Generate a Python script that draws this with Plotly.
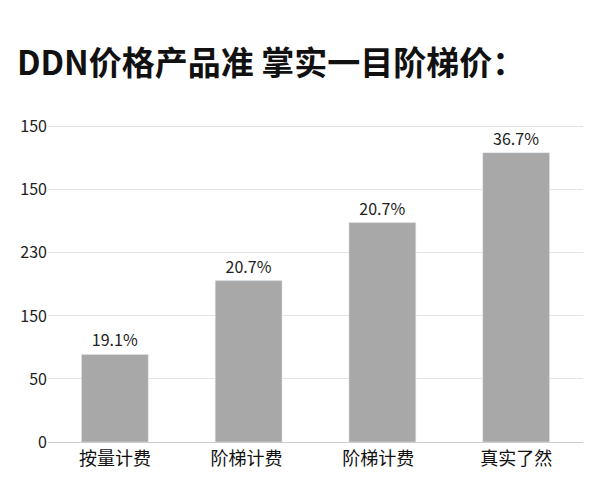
import plotly.graph_objects as go

categories = ["按量计费", "阶梯计费 ", "阶梯计费  ", "真实了然"]
bar_values = [1.39, 2.56, 3.48, 4.59]
bar_labels = ["19.1%", "20.7%", "20.7%", "36.7%"]
tick_positions = [0, 1, 2, 3, 4, 5]
tick_labels = ["0", "50", "150", "230", "150", "150"]

fig = go.Figure(go.Bar(
    x=categories, y=bar_values, text=bar_labels, textposition="outside",
    textfont=dict(size=16, color="#222"), marker_color="#a8a8a8", width=0.5,
    cliponaxis=False,
))
fig.update_layout(
    width=600, height=500, plot_bgcolor="white", paper_bgcolor="white",
    margin=dict(l=40, r=25, t=98, b=66), showlegend=False,
    font=dict(family="Noto Sans CJK SC", color="#222"),
    title=dict(text="<b>DDN价格产品准 掌实一目阶梯价：</b>", x=0.015, y=0.89, xanchor="left",
               yanchor="middle", font=dict(size=33, color="#111")),
    yaxis=dict(range=[0, 5.33], tickvals=tick_positions, ticktext=tick_labels,
               showgrid=True, gridcolor="#e4e4e4", zeroline=False, showline=False,
               tickfont=dict(size=16, color="#222"), ticks="", ticklabelstandoff=0),
    xaxis=dict(showline=True, linecolor="#cccccc", tickfont=dict(size=18, color="#111"),
               ticks=""),
)
fig.write_html("out.html")
